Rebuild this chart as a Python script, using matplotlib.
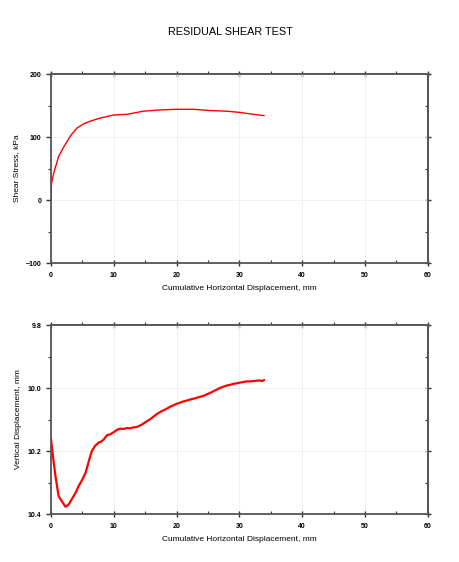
import matplotlib
matplotlib.use("Agg")
import matplotlib.pyplot as plt
from matplotlib.ticker import MultipleLocator, NullFormatter

plt.rcParams['font.family'] = ['Liberation Sans', 'DejaVu Sans']

# Shear stress vs displacement
shear_x = [0, 0.05, 0.4, 1.2, 2.0, 3.1, 4.1, 5.2, 6.2, 7.8, 10.0, 12.1, 14.7,
           17.4, 20.0, 22.7, 25.3, 28.0, 30.1, 32.2, 33.9]
shear_y = [0, 25, 42, 69, 84, 102, 114, 121, 125, 130, 135, 136, 141,
           143, 144, 144, 142, 141, 139, 136, 134]

# Vertical displacement vs displacement
vert_x = [0, 0.3, 0.7, 1.2, 1.8, 2.3, 2.8, 3.3, 3.9, 4.4, 5.0, 5.5, 6.1, 6.5,
          7.0, 7.6, 8.0, 8.4, 8.9, 9.4, 10.0, 10.5, 11.0, 11.5, 12.1, 12.6,
          13.1, 13.6, 14.2, 14.7, 15.3, 15.8, 16.3, 16.9, 17.4, 17.9, 18.4,
          19.0, 19.5, 20.0, 20.5, 21.0, 21.6, 22.1, 22.7, 23.2, 23.7, 24.3,
          24.8, 25.3, 25.8, 26.4, 26.9, 27.4, 28.0, 28.5, 29.0, 29.6, 30.1,
          30.6, 31.1, 31.7, 32.2, 32.7, 33.3, 33.6, 33.9]
vert_y = [10.163, 10.216, 10.280, 10.343, 10.362, 10.377, 10.370, 10.353,
          10.333, 10.311, 10.290, 10.269, 10.226, 10.200, 10.184, 10.173,
          10.170, 10.163, 10.150, 10.147, 10.140, 10.133, 10.129, 10.130,
          10.127, 10.128, 10.125, 10.124, 10.119, 10.113, 10.105, 10.099,
          10.091, 10.082, 10.076, 10.071, 10.066, 10.059, 10.055, 10.050,
          10.047, 10.043, 10.040, 10.037, 10.034, 10.031, 10.028, 10.025,
          10.020, 10.016, 10.011, 10.005, 10.000, 9.996, 9.992, 9.990,
          9.987, 9.985, 9.983, 9.981, 9.979, 9.979, 9.978, 9.977, 9.976,
          9.978, 9.975]

xlabel = "Cumulative Horizontal Displacement, mm"

fig = plt.figure(figsize=(4.6, 5.62), dpi=100)
fig.text(0.5, 0.943, "RESIDUAL SHEAR TEST", ha="center", va="center", fontsize=7.8)

ax1 = fig.add_axes([0.111, 0.532, 0.819, 0.3363])
ax2 = fig.add_axes([0.111, 0.0854, 0.819, 0.3363])

tick_col = "#333333"


def style(ax, ymaj, ymin):
    ax.set_xlim(0, 60)
    ax.xaxis.set_major_locator(MultipleLocator(10))
    ax.xaxis.set_minor_locator(MultipleLocator(5))
    ax.yaxis.set_major_locator(MultipleLocator(ymaj))
    ax.yaxis.set_minor_locator(MultipleLocator(ymin))
    for s in ax.spines.values():
        s.set_color("#555555")
        s.set_linewidth(1.3)
    # bottom / left ticks
    ax.xaxis.set_tick_params(which="major", direction="inout", length=4.5,
                             width=1.0, color=tick_col, labelsize=5, pad=4.5)
    ax.xaxis.set_tick_params(which="minor", direction="in", length=2,
                             width=0.8, color=tick_col)
    ax.yaxis.set_tick_params(which="major", direction="out", length=3.6,
                             width=1.0, color=tick_col, labelsize=5, pad=3.5)
    ax.yaxis.set_tick_params(which="minor", direction="out", length=2,
                             width=0.8, color=tick_col)
    for lab in ax.get_xticklabels() + ax.get_yticklabels():
        lab.set_fontweight("bold")
    # top / right ticks, no labels
    top = ax.secondary_xaxis("top")
    top.xaxis.set_major_locator(MultipleLocator(10))
    top.xaxis.set_minor_locator(MultipleLocator(5))
    top.xaxis.set_major_formatter(NullFormatter())
    top.tick_params(which="major", direction="inout", length=4.5, width=1.0, color=tick_col)
    top.tick_params(which="minor", direction="out", length=2, width=0.8, color=tick_col)
    right = ax.secondary_yaxis("right")
    right.yaxis.set_major_locator(MultipleLocator(ymaj))
    right.yaxis.set_minor_locator(MultipleLocator(ymin))
    right.yaxis.set_major_formatter(NullFormatter())
    right.tick_params(which="major", direction="inout", length=4.5, width=1.0, color=tick_col)
    right.tick_params(which="minor", direction="in", length=2, width=0.8, color=tick_col)
    for sec in (top, right):
        for s in sec.spines.values():
            s.set_color("#555555")
            s.set_linewidth(1.3)
    ax.grid(True, which="major", color="#eeeeee", linewidth=0.6)
    ax.set_axisbelow(True)
    ax.set_xlabel(xlabel, fontsize=6, labelpad=4)


ax1.plot(shear_x, shear_y, color="#ff0000", linewidth=1.0)
ax1.set_ylim(-100, 200)
ax1.set_ylabel("Shear Stress, kPa", fontsize=6, labelpad=4)
style(ax1, 100, 50)

ax2.plot(vert_x, vert_y, color="#ff0000", linewidth=1.6)
ax2.set_ylim(10.4, 9.8)
ax2.yaxis.set_major_formatter(plt.FormatStrFormatter("%.1f"))
ax2.set_ylabel("Vertical Displacement, mm", fontsize=6, labelpad=4)
style(ax2, 0.2, 0.1)

fig.savefig("out.png", dpi=100)
